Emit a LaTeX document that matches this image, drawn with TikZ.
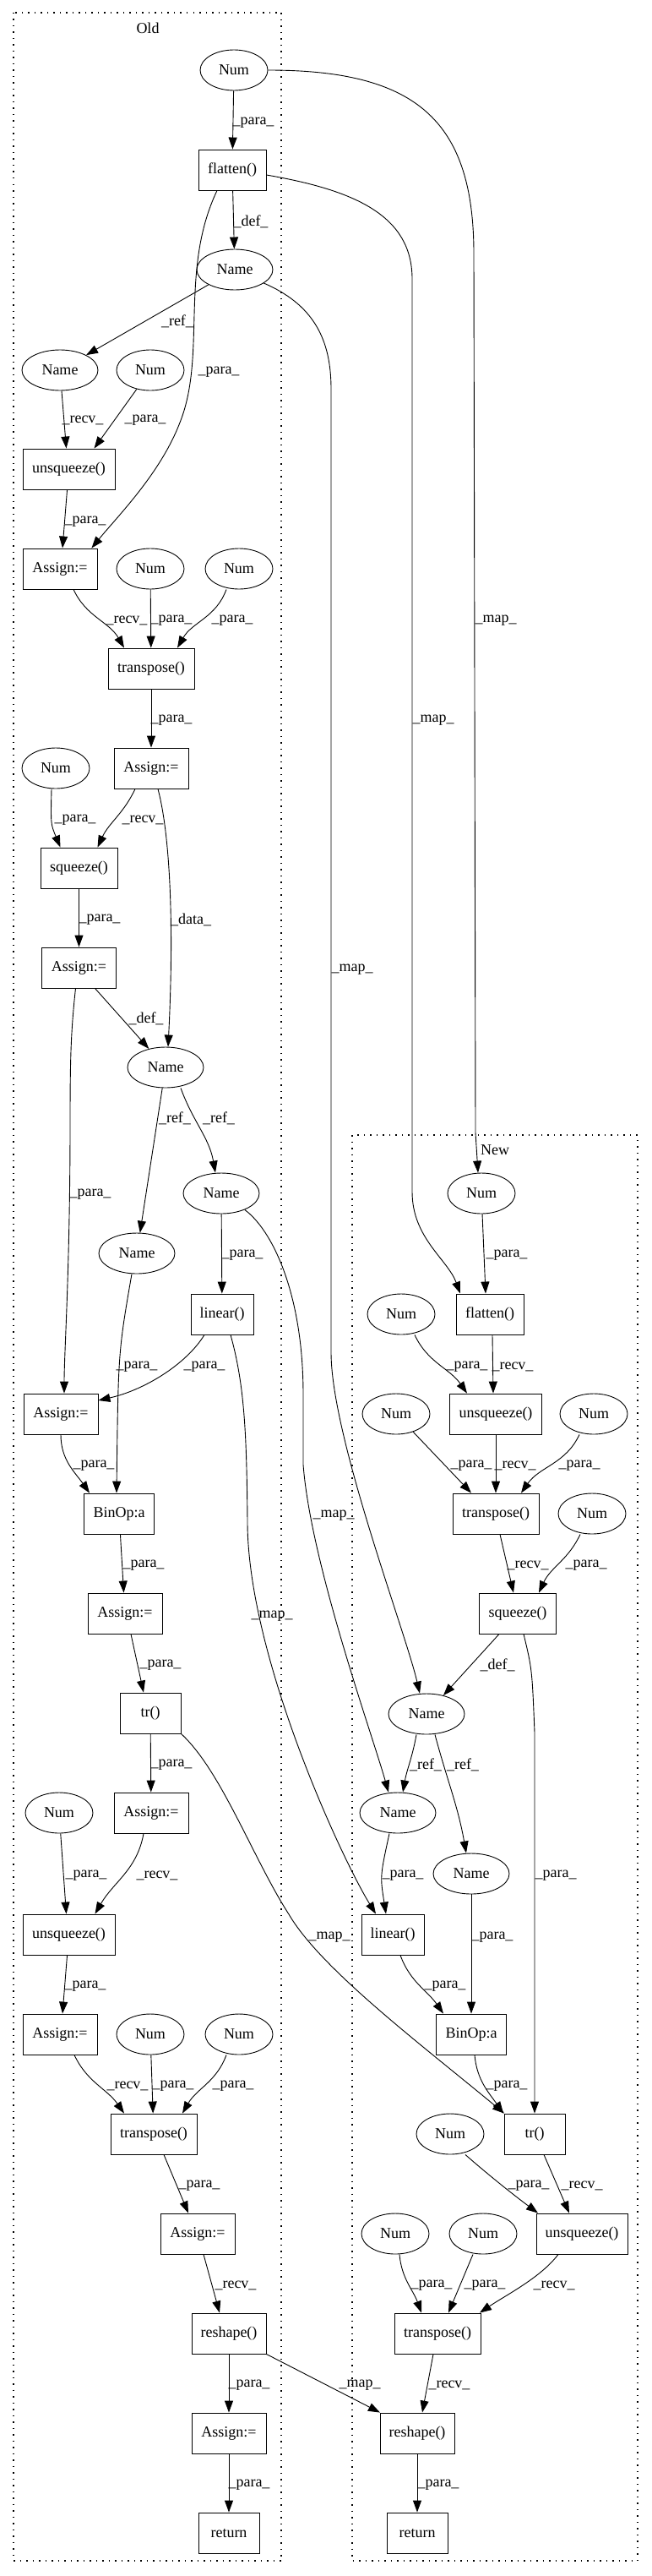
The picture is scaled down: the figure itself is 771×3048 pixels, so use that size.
\documentclass[tikz,border=0pt]{standalone}
\usepackage{fontspec}
\setmainfont{Liberation Serif}
\usetikzlibrary{shapes.geometric,arrows.meta}
\tikzset{
 box/.style={draw, rectangle, line width=0.9pt, inner sep=0pt, minimum height=48pt},
 ell/.style={draw, ellipse, line width=0.9pt, inner sep=0pt, minimum height=48pt},
 num/.style={ell, minimum width=80pt},
 nam/.style={ell, minimum width=90pt},
 edge/.style={line width=0.9pt, -{Triangle[length=14pt,width=10pt]}},
 lab/.style={inner sep=0pt},
 clus/.style={line width=1.2pt, dash pattern=on 1.5pt off 6pt},
}
\begin{document}
\begin{tikzpicture}[x=1pt,y=1pt,every node/.style={font=\fontsize{18}{21}\selectfont}]
\useasboundingbox (0,0) rectangle (771,-3048);
% clusters
\draw[clus] (16,-15) rectangle (333,-3030);
\draw[clus] (417,-1343) rectangle (755,-3030);
\node[lab] (tOld) at (175,-33) {Old};
\node[lab] (tNew) at (586,-1361) {New};
% old nodes
\node[num] (onum1) at (277,-83) {Num};
\node[box,minimum width=80pt] (oflat) at (275,-201) {flatten()};
\node[nam] (oname1) at (278,-319) {Name};
\node[nam] (oname2) at (71,-438) {Name};
\node[num] (onum2) at (178,-438) {Num};
\node[box,minimum width=109pt] (ounsq1) at (81.5,-555) {unsqueeze()};
\node[box,minimum width=88pt] (oasg1) at (71,-673) {Assign:=};
\node[num] (onum3) at (178,-673) {Num};
\node[num] (onum4) at (283,-673) {Num};
\node[box,minimum width=102pt] (otp1) at (179,-791) {transpose()};
\node[num] (onum5) at (66,-909) {Num};
\node[box,minimum width=88pt] (oasg2) at (179,-909) {Assign:=};
\node[box,minimum width=91pt] (osq) at (93.5,-1027) {squeeze()};
\node[box,minimum width=88pt] (oasg3) at (93.5,-1145) {Assign:=};
\node[nam] (oname3) at (196,-1263) {Name};
\node[nam] (oname5) at (262,-1412) {Name};
\node[nam] (oname4) at (162,-1483) {Name};
\node[box,minimum width=74pt] (olin) at (263,-1555) {linear()};
\node[box,minimum width=88pt] (oasg4) at (72,-1673) {Assign:=};
\node[box,minimum width=83pt] (obin) at (141,-1791) {BinOp:a};
\node[box,minimum width=88pt] (oasg5) at (148,-1909) {Assign:=};
\node[box,minimum width=72pt] (otrc) at (178,-2027) {tr()};
\node[box,minimum width=88pt] (oasg6) at (179,-2145) {Assign:=};
\node[num] (onum6) at (70,-2145) {Num};
\node[box,minimum width=109pt] (ounsq2) at (81.5,-2289) {unsqueeze()};
\node[box,minimum width=88pt] (oasg7) at (71,-2407) {Assign:=};
\node[num] (onum7) at (178,-2407) {Num};
\node[num] (onum8) at (283,-2407) {Num};
\node[box,minimum width=102pt] (otp2) at (182,-2525) {transpose()};
\node[box,minimum width=88pt] (oasg8) at (234,-2643) {Assign:=};
\node[box,minimum width=88pt] (oresh) at (271,-2761) {reshape()};
\node[box,minimum width=88pt] (oasg9) at (271,-2879) {Assign:=};
\node[box,minimum width=72pt] (oret) at (271,-2997) {return};
% new nodes
\node[num] (nnum1) at (570,-1412) {Num};
\node[box,minimum width=80pt] (nflat) at (580,-1555) {flatten()};
\node[num] (nnum2) at (475,-1555) {Num};
\node[box,minimum width=109pt] (nunsq) at (587,-1673) {unsqueeze()};
\node[num] (nnum3) at (469,-1673) {Num};
\node[num] (nnum4) at (703,-1673) {Num};
\node[box,minimum width=102pt] (ntp) at (587,-1791) {transpose()};
\node[num] (nnum5) at (701,-1791) {Num};
\node[box,minimum width=91pt] (nsq) at (613,-1909) {squeeze()};
\node[nam] (nname1) at (505,-2028) {Name};
\node[nam] (nname2) at (471,-2145) {Name};
\node[nam] (nname3) at (558,-2217) {Name};
\node[box,minimum width=74pt] (nlin) at (465,-2289) {linear()};
\node[box,minimum width=83pt] (nbin) at (558,-2407) {BinOp:a};
\node[box,minimum width=72pt] (ntrc) at (633,-2525) {tr()};
\node[num] (nnum6) at (533,-2525) {Num};
\node[box,minimum width=108pt] (nunsq2) at (689,-2643) {unsqueeze()};
\node[num] (nnum7) at (468,-2643) {Num};
\node[num] (nnum8) at (572,-2643) {Num};
\node[box,minimum width=102pt] (ntp2) at (518,-2761) {transpose()};
\node[box,minimum width=88pt] (nresh) at (494,-2879) {reshape()};
\node[box,minimum width=72pt] (nret) at (494,-2997) {return};
% old edges
\draw[edge] (onum1) -- (oflat);
\draw[edge] (oflat) -- (oname1);
\draw[edge] ([xshift=-18pt]oflat.south) .. controls (212,-320) and (245,-420) .. (213,-500) .. controls (190,-560) and (140,-610) .. ([xshift=-7pt]oasg1.north east);
\draw[edge] (oname1) -- (oname2);
\draw[edge] (oname2) -- ([xshift=-3pt]ounsq1.north);
\draw[edge] (onum2) -- ([xshift=30pt]ounsq1.north);
\draw[edge] (ounsq1) -- ([xshift=3pt]oasg1.north);
\draw[edge] ([xshift=16pt]oasg1.south) to[out=-65,in=120] ([xshift=-32pt]otp1.north);
\draw[edge] (onum3) -- (otp1);
\draw[edge] ([xshift=-15pt]onum4.south) to[out=-110,in=60] ([xshift=31pt]otp1.north);
\draw[edge] (otp1) -- (oasg2);
\draw[edge] ([xshift=-19pt]oasg2.south) to[out=-115,in=65] ([xshift=22pt]osq.north);
\draw[edge] ([xshift=-5pt]onum5.south) .. controls (60,-975) .. ([xshift=-22pt]osq.north);
\draw[edge] ([xshift=8pt]oasg2.south) .. controls (202,-990) and (206,-1100) .. ([xshift=3pt]oname3.north);
\draw[edge] (osq) -- (oasg3);
\draw[edge] ([xshift=19pt]oasg3.south) -- (oname3);
\draw[edge] ([xshift=-4pt]oasg3.south) .. controls (84,-1220) and (83,-1250) .. (83,-1330) .. controls (83,-1500) and (76,-1600) .. ([xshift=4pt]oasg4.north);
\draw[edge] (oname3) -- (oname4);
\draw[edge] ([xshift=18pt]oname3.south) to[out=-70,in=100] ([xshift=-7pt]oname5.north);
\draw[edge] (oname5) -- (olin);
\draw[edge] ([xshift=-6pt]oname4.south) .. controls (140,-1600) .. ([xshift=-3pt]obin.north);
\draw[edge] ([xshift=-21pt]olin.south) .. controls (220,-1615) and (170,-1645) .. ([yshift=16pt]oasg4.east);
\draw[edge] (oasg4.south) to[out=-90,in=125] ([xshift=-35pt]obin.north);
\draw[edge] (obin) -- (oasg5);
\draw[edge] ([xshift=7pt]oasg5.south) -- ([xshift=-8pt]otrc.north);
\draw[edge] (otrc) -- (oasg6);
\draw[edge] ([xshift=-9pt]oasg6.south) to[out=-100,in=60] ([xshift=31pt]ounsq2.north);
\draw[edge] (onum6) -- ([xshift=-3pt]ounsq2.north);
\draw[edge] (ounsq2) -- ([xshift=3pt]oasg7.north);
\draw[edge] ([xshift=17pt]oasg7.south) to[out=-65,in=125] ([xshift=-35pt]otp2.north);
\draw[edge] (onum7) -- (otp2);
\draw[edge] ([xshift=-15pt]onum8.south) to[out=-110,in=60] ([xshift=34pt]otp2.north);
\draw[edge] ([xshift=12pt]otp2.south) -- ([xshift=-11pt]oasg8.north);
\draw[edge] ([xshift=7pt]oasg8.south) -- ([xshift=-11pt]oresh.north);
\draw[edge] (oresh) -- (oasg9);
\draw[edge] (oasg9) -- (oret);
% map edges
\draw[edge] (onum1.east) .. controls (490,-83) and (561,-140) .. (561,-300) -- (563,-1340) -- ([xshift=-4pt]nnum1.north);
\draw[edge] ([yshift=-6pt]oflat.east) .. controls (420,-225) and (488,-255) .. (488,-330) -- (488,-1410) .. controls (488,-1465) and (530,-1490) .. ([xshift=-35pt]nflat.north);
\draw[edge] (oname1.-25) .. controls (370,-360) and (392,-400) .. (392,-460) -- (392,-1600) .. controls (392,-1700) and (480,-1930) .. ([xshift=-8pt]nname1.north);
\draw[edge] (oname5.-35) .. controls (322,-1455) and (359,-1530) .. (359,-1650) -- (359,-1733) .. controls (368,-1850) and (440,-2050) .. ([xshift=-11pt]nname2.north);
\draw[edge] ([xshift=10pt]olin.south) .. controls (290,-1640) and (292,-1700) .. (293,-1800) .. controls (293,-1960) and (405,-2200) .. ([xshift=-20pt]nlin.north);
\draw[edge] (otrc.south east) .. controls (262,-2095) and (300,-2200) .. (342,-2265) .. controls (380,-2330) and (500,-2420) .. ([xshift=-36pt]ntrc.north);
\draw[edge] (oresh.south east) -- ([xshift=-44pt]nresh.north);
% new edges
\draw[edge] (nnum1) -- ([xshift=-5pt]nflat.north);
\draw[edge] ([xshift=16pt]nnum2.south) to[out=-65,in=125] ([xshift=-34pt]nunsq.north);
\draw[edge] ([xshift=3pt]nflat.south) -- ([xshift=-3pt]nunsq.north);
\draw[edge] (nunsq) -- (ntp);
\draw[edge] (nnum3) -- ([xshift=-29pt]ntp.north);
\draw[edge] ([xshift=-17pt]nnum4.south) to[out=-115,in=55] ([xshift=30pt]ntp.north);
\draw[edge] ([xshift=5pt]ntp.south) -- ([xshift=-5pt]nsq.north);
\draw[edge] ([xshift=-14pt]nnum5.south) to[out=-115,in=65] ([xshift=25pt]nsq.north);
\draw[edge] ([xshift=-22pt]nsq.south) -- (nname1);
\draw[edge] ([xshift=7pt]nsq.south) .. controls (630,-1975) .. (633,-2050) -- (ntrc.north);
\draw[edge] ([xshift=-12pt]nname1.south) to[out=-100,in=80] ([xshift=6pt]nname2.north);
\draw[edge] ([xshift=10pt]nname1.south) to[out=-75,in=100] ([xshift=-6pt]nname3.north);
\draw[edge] ([xshift=-10pt]nname2.south) .. controls (450,-2220) .. ([xshift=-8pt]nlin.north);
\draw[edge] (nname3) -- (nbin);
\draw[edge] ([xshift=9pt]nlin.south) to[out=-70,in=125] ([xshift=-33pt]nbin.north);
\draw[edge] ([xshift=4pt]nbin.south) to[out=-85,in=125] ([xshift=-37pt]ntrc.north);
\draw[edge] ([xshift=18pt]nnum6.south) .. controls (580,-2575) and (612,-2600) .. ([xshift=-52pt]nunsq2.north);
\draw[edge] ([xshift=11pt]ntrc.south) -- ([xshift=-15pt]nunsq2.north);
\draw[edge] ([xshift=-28pt]nunsq2.south) .. controls (640,-2695) and (600,-2715) .. ([xshift=50pt]ntp2.north);
\draw[edge] ([xshift=5pt]nnum7.south) to[out=-85,in=110] ([xshift=-19pt]ntp2.north);
\draw[edge] ([xshift=-12pt]nnum8.south) -- ([xshift=13pt]ntp2.north);
\draw[edge] ([xshift=-5pt]ntp2.south) -- ([xshift=6pt]nresh.north);
\draw[edge] (nresh) -- (nret);
% labels
\node[lab] (l1) at (300,-145) {\_para\_};
\node[lab] (l2) at (297,-262) {\_def\_};
\node[lab] (l3) at (210,-380) {\_ref\_};
\node[lab] (l4) at (259,-440) {\_para\_};
\node[lab] (l5) at (98,-497) {\_recv\_};
\node[lab] (l6) at (172,-497) {\_para\_};
\node[lab] (l7) at (101,-617) {\_para\_};
\node[lab] (l8) at (150,-734) {\_recv\_};
\node[lab] (l9) at (203,-734) {\_para\_};
\node[lab] (l10) at (275,-734) {\_para\_};
\node[lab] (l11) at (203,-852) {\_para\_};
\node[lab] (l12) at (89,-970) {\_para\_};
\node[lab] (l13) at (169,-970) {\_recv\_};
\node[lab] (l14) at (587,-734) {\_map\_};
\node[lab] (l15) at (513,-852) {\_map\_};
\node[lab] (l16) at (118,-1088) {\_para\_};
\node[lab] (l17) at (226,-1088) {\_data\_};
\node[lab] (l18) at (417,-1147) {\_map\_};
\node[lab] (l19) at (173,-1205) {\_def\_};
\node[lab] (l20) at (207,-1323) {\_ref\_};
\node[lab] (l21) at (259,-1323) {\_ref\_};
\node[lab] (l22) at (107,-1413) {\_para\_};
\node[lab] (l23) at (287,-1485) {\_para\_};
\node[lab] (l24) at (600,-1485) {\_para\_};
\node[lab] (l25) at (162,-1617) {\_para\_};
\node[lab] (l26) at (242,-1617) {\_para\_};
\node[lab] (l27) at (111,-1734) {\_para\_};
\node[lab] (l28) at (170,-1852) {\_para\_};
\node[lab] (l29) at (190,-1970) {\_para\_};
\node[lab] (l30) at (322,-1912) {\_map\_};
\node[lab] (l31) at (395,-1793) {\_map\_};
\node[lab] (l32) at (553,-1617) {\_para\_};
\node[lab] (l33) at (607,-1617) {\_recv\_};
\node[lab] (l34) at (558,-1734) {\_para\_};
\node[lab] (l35) at (610,-1734) {\_recv\_};
\node[lab] (l36) at (686,-1734) {\_para\_};
\node[lab] (l37) at (625,-1852) {\_recv\_};
\node[lab] (l38) at (694,-1852) {\_para\_};
\node[lab] (l39) at (589,-1970) {\_def\_};
\node[lab] (l40) at (203,-2088) {\_para\_};
\node[lab] (l41) at (504,-2088) {\_ref\_};
\node[lab] (l42) at (548,-2088) {\_ref\_};
\node[lab] (l43) at (102,-2219) {\_para\_};
\node[lab] (l44) at (186,-2219) {\_recv\_};
\node[lab] (l45) at (477,-2219) {\_para\_};
\node[lab] (l46) at (658,-2219) {\_para\_};
\node[lab] (l47) at (390,-2292) {\_map\_};
\node[lab] (l48) at (583,-2292) {\_para\_};
\node[lab] (l49) at (101,-2350) {\_para\_};
\node[lab] (l50) at (527,-2350) {\_para\_};
\node[lab] (l51) at (151,-2468) {\_recv\_};
\node[lab] (l52) at (205,-2468) {\_para\_};
\node[lab] (l53) at (276,-2468) {\_para\_};
\node[lab] (l54) at (600,-2468) {\_para\_};
\node[lab] (l55) at (236,-2586) {\_para\_};
\node[lab] (l56) at (626,-2586) {\_para\_};
\node[lab] (l57) at (689,-2586) {\_recv\_};
\node[lab] (l58) at (279,-2704) {\_recv\_};
\node[lab] (l59) at (511,-2704) {\_para\_};
\node[lab] (l60) at (574,-2704) {\_para\_};
\node[lab] (l61) at (656,-2704) {\_recv\_};
\node[lab] (l62) at (295,-2822) {\_para\_};
\node[lab] (l63) at (426,-2822) {\_map\_};
\node[lab] (l64) at (532,-2822) {\_recv\_};
\node[lab] (l65) at (295,-2940) {\_para\_};
\node[lab] (l66) at (519,-2940) {\_para\_};
\end{tikzpicture}
\end{document}
